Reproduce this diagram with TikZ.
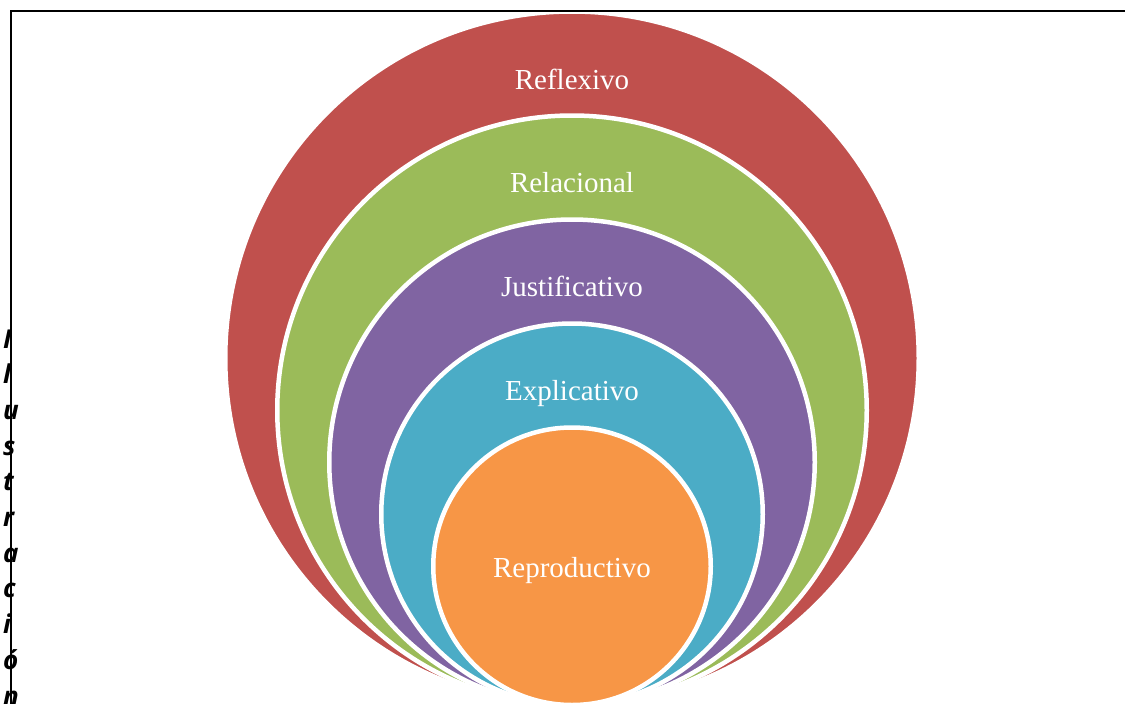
\documentclass[tikz,border=0pt]{standalone}
\usepackage{fontspec}
\setmainfont{Liberation Serif}
\newfontfamily\sidefont{Open Sans}
\begin{document}
\begin{tikzpicture}[x=1pt,y=-1pt,
  ring/.style={circle, draw=white, line width=4.5pt, inner sep=0pt, outer sep=0pt},
  ringlabel/.style={anchor=base, inner sep=0pt, text=white, font=\fontsize{29}{35}\selectfont},
  sideletter/.style={anchor=base west, inner sep=0pt, font=\sidefont\bfseries\itshape\fontsize{26}{35.7}\selectfont},
  frame/.style={line width=2pt, draw=black}]
\useasboundingbox (0,0) rectangle (1125,704);
\clip (0,0) rectangle (1125,704);
\definecolor{cRed}{HTML}{C0504D}
\definecolor{cGreen}{HTML}{9BBB59}
\definecolor{cPurple}{HTML}{8064A2}
\definecolor{cBlue}{HTML}{4BACC6}
\definecolor{cOrange}{HTML}{F79646}

% nested circles, all touching at the bottom
\node[ring, fill=cRed,    minimum size=693.5pt] (reflexivo)    at (572,358.25) {};
\node[ring, fill=cGreen,  minimum size=589.5pt] (relacional)   at (572,410.25) {};
\node[ring, fill=cPurple, minimum size=485.5pt] (justific)     at (572,462.25) {};
\node[ring, fill=cBlue,   minimum size=381.5pt] (explicativo)  at (572,514.25) {};
\node[ring, fill=cOrange, minimum size=277.5pt] (reproductivo) at (572,566.25) {};

% labels
\node[ringlabel] (tReflexivo)    at (572,89.5)  {Reflexivo};
\node[ringlabel] (tRelacional)   at (572,192.5) {Relacional};
\node[ringlabel] (tJustific)     at (572,296)   {Justificativo};
\node[ringlabel] (tExplicativo)  at (572,400.5) {Explicativo};
\node[ringlabel] (tReproductivo) at (572,577.5) {Reproductivo};

% frame lines
\coordinate (fTR) at (1125,11);
\coordinate (fTL) at (11,11);
\coordinate (fBL) at (11,704);
\draw[frame] (fTR) -- (fTL) -- (fBL);

% vertical caption, one letter per line
\foreach \ch [count=\k from 0] in {I,l,u,s,t,r,a,c,i,ó,n}
  \node[sideletter] (side\k) at (3,348+35.7*\k) {\ch};
\end{tikzpicture}
\end{document}
